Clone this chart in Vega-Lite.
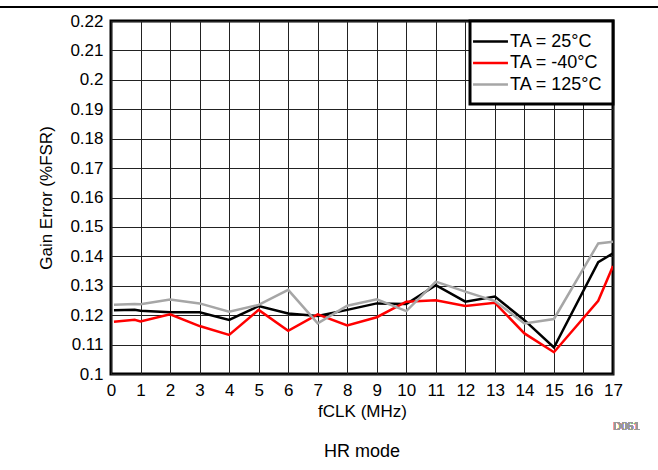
{
  "$schema": "https://vega.github.io/schema/vega-lite/v6.json",
  "autosize": {"type": "none"},
  "padding": {"left": 111, "top": 21, "right": 45, "bottom": 96},
  "width": 502,
  "height": 353,
  "background": "white",
  "config": {
    "font": "Liberation Sans",
    "view": {"stroke": "black", "strokeWidth": 3},
    "axis": {"domain": false, "ticks": false, "grid": true, "gridColor": "#222", "gridWidth": 1, "gridOpacity": 1, "labelOverlap": false, "labelFlush": false, "labelFont": "Liberation Sans", "labelFontSize": 17, "labelColor": "black", "titleFont": "Liberation Sans", "titleFontSize": 17, "titleFontWeight": "normal", "titleColor": "black"},
    "legend": {"strokeColor": "black", "strokeWidth": 3, "fillColor": "white", "labelFont": "Liberation Sans", "labelFontSize": 18, "labelColor": "black"}
  },
  "title": {"text": "HR mode", "orient": "bottom", "anchor": "middle", "fontSize": 18, "fontWeight": "normal", "font": "Liberation Sans", "color": "black", "offset": 11},
  "data": {"values": [
    {"f": 0.1, "temp": "25", "gain": 0.1217},
    {"f": 0.8, "temp": "25", "gain": 0.1218},
    {"f": 1, "temp": "25", "gain": 0.1215},
    {"f": 2, "temp": "25", "gain": 0.121},
    {"f": 3, "temp": "25", "gain": 0.121},
    {"f": 4, "temp": "25", "gain": 0.1184},
    {"f": 5, "temp": "25", "gain": 0.1231},
    {"f": 6, "temp": "25", "gain": 0.1206},
    {"f": 7, "temp": "25", "gain": 0.1197},
    {"f": 8, "temp": "25", "gain": 0.1218},
    {"f": 9, "temp": "25", "gain": 0.124},
    {"f": 10, "temp": "25", "gain": 0.1238},
    {"f": 11, "temp": "25", "gain": 0.1302},
    {"f": 12, "temp": "25", "gain": 0.1246},
    {"f": 13, "temp": "25", "gain": 0.1263},
    {"f": 14, "temp": "25", "gain": 0.1183},
    {"f": 15, "temp": "25", "gain": 0.109},
    {"f": 16.5, "temp": "25", "gain": 0.138},
    {"f": 17, "temp": "25", "gain": 0.141},
    {"f": 0.1, "temp": "-40", "gain": 0.1178},
    {"f": 0.8, "temp": "-40", "gain": 0.1184},
    {"f": 1, "temp": "-40", "gain": 0.1179},
    {"f": 2, "temp": "-40", "gain": 0.1203},
    {"f": 3, "temp": "-40", "gain": 0.1163},
    {"f": 4, "temp": "-40", "gain": 0.1133},
    {"f": 5, "temp": "-40", "gain": 0.1218},
    {"f": 6, "temp": "-40", "gain": 0.1147},
    {"f": 7, "temp": "-40", "gain": 0.1203},
    {"f": 8, "temp": "-40", "gain": 0.1165},
    {"f": 9, "temp": "-40", "gain": 0.1193},
    {"f": 10, "temp": "-40", "gain": 0.1246},
    {"f": 11, "temp": "-40", "gain": 0.1251},
    {"f": 12, "temp": "-40", "gain": 0.1231},
    {"f": 13, "temp": "-40", "gain": 0.1242},
    {"f": 14, "temp": "-40", "gain": 0.1138},
    {"f": 15, "temp": "-40", "gain": 0.1074},
    {"f": 16.5, "temp": "-40", "gain": 0.1249},
    {"f": 17, "temp": "-40", "gain": 0.1367},
    {"f": 0.1, "temp": "125", "gain": 0.1235},
    {"f": 0.8, "temp": "125", "gain": 0.1238},
    {"f": 1, "temp": "125", "gain": 0.1237},
    {"f": 2, "temp": "125", "gain": 0.1253},
    {"f": 3, "temp": "125", "gain": 0.124},
    {"f": 4, "temp": "125", "gain": 0.1212},
    {"f": 5, "temp": "125", "gain": 0.1235},
    {"f": 6, "temp": "125", "gain": 0.1286},
    {"f": 7, "temp": "125", "gain": 0.1172},
    {"f": 8, "temp": "125", "gain": 0.1232},
    {"f": 9, "temp": "125", "gain": 0.1254},
    {"f": 10, "temp": "125", "gain": 0.1214},
    {"f": 11, "temp": "125", "gain": 0.1314},
    {"f": 12, "temp": "125", "gain": 0.128},
    {"f": 13, "temp": "125", "gain": 0.1248},
    {"f": 14, "temp": "125", "gain": 0.1172},
    {"f": 15, "temp": "125", "gain": 0.1187},
    {"f": 16.5, "temp": "125", "gain": 0.1444},
    {"f": 17, "temp": "125", "gain": 0.145}
  ]},
  "layer": [
    {
      "mark": {"type": "line", "strokeWidth": 2.5, "clip": true},
      "encoding": {
        "x": {"field": "f", "type": "quantitative", "scale": {"domain": [0, 17], "nice": false, "zero": false},
              "axis": {"values": [0,1,2,3,4,5,6,7,8,9,10,11,12,13,14,15,16,17], "labelOverlap": false, "labelFlush": false, "title": "fCLK (MHz)", "labelPadding": 8, "titlePadding": 5}},
        "y": {"field": "gain", "type": "quantitative", "scale": {"domain": [0.1, 0.22], "nice": false, "zero": false},
              "axis": {"values": [0.1,0.11,0.12,0.13,0.14,0.15,0.16,0.17,0.18,0.19,0.2,0.21,0.22], "labelOverlap": false, "labelFlush": false, "format": ".2~f", "title": "Gain Error (%FSR)", "labelPadding": 8, "titlePadding": 14}},
        "color": {"field": "temp", "type": "nominal",
                  "scale": {"domain": ["25", "-40", "125"], "range": ["#000000", "#ff0000", "#a6a6a6"]},
                  "legend": {"title": null, "orient": "top-right", "offset": 0, "padding": 10, "rowPadding": 1.5,
                             "symbolType": "M-1.94,0H1.94", "symbolSize": 324, "symbolStrokeWidth": 2.5,
                             "labelFontSize": 18, "labelColor": "black", "labelOffset": 9,
                             "labelExpr": "'TA = ' + datum.label + '°C'"}}
      }
    },
    {
      "mark": {"type": "rule", "color": "black", "strokeWidth": 1.5, "clip": false},
      "encoding": {
        "x": {"datum": -3.8, "axis": {"values": [0,1,2,3,4,5,6,7,8,9,10,11,12,13,14,15,16,17], "labelOverlap": false, "labelFlush": false, "title": "fCLK (MHz)", "labelPadding": 8, "titlePadding": 5}},
        "x2": {"datum": 18.6},
        "y": {"datum": 0.2248, "axis": {"values": [0.1,0.11,0.12,0.13,0.14,0.15,0.16,0.17,0.18,0.19,0.2,0.21,0.22], "labelOverlap": false, "labelFlush": false, "format": ".2~f", "title": "Gain Error (%FSR)", "labelPadding": 8, "titlePadding": 14}}
      }
    },
    {
      "mark": {"type": "text", "align": "right", "baseline": "middle", "fontSize": 11, "fontWeight": "normal", "color": "#999999", "font": "Liberation Sans", "clip": false},
      "encoding": {
        "x": {"datum": 17.9, "axis": {"values": [0,1,2,3,4,5,6,7,8,9,10,11,12,13,14,15,16,17], "labelOverlap": false, "labelFlush": false, "title": "fCLK (MHz)", "labelPadding": 8, "titlePadding": 5}},
        "y": {"datum": 0.082, "axis": {"values": [0.1,0.11,0.12,0.13,0.14,0.15,0.16,0.17,0.18,0.19,0.2,0.21,0.22], "labelOverlap": false, "labelFlush": false, "format": ".2~f", "title": "Gain Error (%FSR)", "labelPadding": 8, "titlePadding": 14}},
        "text": {"value": "D061"}
      }
    }
  ]
}
